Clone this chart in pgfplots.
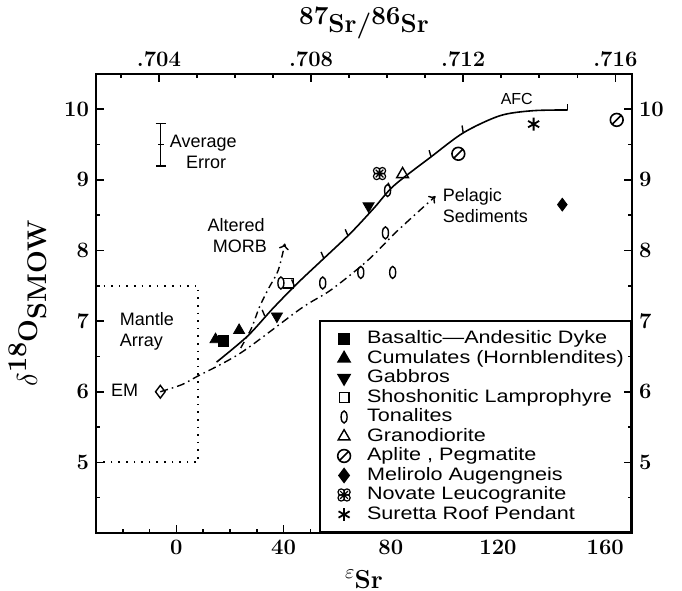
\documentclass[border=0pt]{standalone}
\usepackage{fontspec}
\newfontfamily\lsans{Liberation Sans}
\newfontfamily\lsansw[FakeStretch=1.2]{Liberation Sans}
\usepackage{pgfplots}
\pgfplotsset{compat=1.18}
\usetikzlibrary{calc,arrows.meta}

% circle with slash (aplite)
\pgfdeclareplotmark{oslash}{%
  \pgfpathcircle{\pgfpointorigin}{\pgfplotmarksize}%
  \pgfpathmoveto{\pgfpoint{-0.72\pgfplotmarksize}{-0.72\pgfplotmarksize}}%
  \pgfpathlineto{\pgfpoint{0.72\pgfplotmarksize}{0.72\pgfplotmarksize}}%
  \pgfusepathqstroke}
% clover with cross (leucogranite)
\pgfdeclareplotmark{clover}{%
  \pgfpathcircle{\pgfpoint{0.45\pgfplotmarksize}{0.45\pgfplotmarksize}}{0.5\pgfplotmarksize}%
  \pgfpathcircle{\pgfpoint{-0.45\pgfplotmarksize}{0.45\pgfplotmarksize}}{0.5\pgfplotmarksize}%
  \pgfpathcircle{\pgfpoint{0.45\pgfplotmarksize}{-0.45\pgfplotmarksize}}{0.5\pgfplotmarksize}%
  \pgfpathcircle{\pgfpoint{-0.45\pgfplotmarksize}{-0.45\pgfplotmarksize}}{0.5\pgfplotmarksize}%
  \pgfpathmoveto{\pgfpoint{-0.6\pgfplotmarksize}{-0.6\pgfplotmarksize}}%
  \pgfpathlineto{\pgfpoint{0.6\pgfplotmarksize}{0.6\pgfplotmarksize}}%
  \pgfpathmoveto{\pgfpoint{-0.6\pgfplotmarksize}{0.6\pgfplotmarksize}}%
  \pgfpathlineto{\pgfpoint{0.6\pgfplotmarksize}{-0.6\pgfplotmarksize}}%
  \pgfusepathqstroke}

\tikzset{lbl/.style={font=\lsans\fontsize{9}{10.5}\selectfont,inner sep=0pt}}

\begin{document}
\begin{tikzpicture}
\pgfplotsset{
  frame/.style={scale only axis,width=268pt,height=229.5pt,
    xmin=-30,xmax=170,ymin=4,ymax=10.5,
    axis line style={line width=1.1pt},
    tick style={line width=0.8pt,black},
    major tick length=4pt,minor tick length=2.2pt,
    /pgf/number format/assume math mode=true,
    tick label style={font=\fontsize{11}{13}\selectfont\bfseries},
    ytick={5,6,7,8,9,10},minor ytick={4.5,5.5,6.5,7.5,8.5,9.5}}}
\begin{axis}[frame,name=ax,clip=false,
  xtick={0,40,80,120,160},
  minor xtick={-20,-10,10,20,30,50,60,70,90,100,110,130,140,150},
  xtick pos=bottom,ytick pos=left,
  xlabel={\raisebox{5pt}{\fontsize{10}{11}\selectfont$\varepsilon$}\fontsize{13}{15}\selectfont\bfseries Sr},
  every axis x label/.style={at={(axis description cs:0.5,-0.1)},anchor=center},
  ylabel={\fontsize{13.5}{15}\selectfont$\delta$\raisebox{5.5pt}{\bfseries 18}\bfseries O\raisebox{-4.5pt}{\bfseries SMOW}},
  every axis y label/.style={at={(axis description cs:-0.128,0.5)},rotate=90,anchor=center},
  legend cell align=left,
  legend image code/.code={\draw[#1,mark repeat=1] plot coordinates {(0pt,0pt)};\path (-8pt,0pt) (11pt,0pt);},
  legend style={at={(1,0)},anchor=south east,draw=black,line width=1pt,
    font=\lsansw\fontsize{9}{9.75}\selectfont,
    inner xsep=3.5pt,inner ysep=4.5pt,row sep=1.25pt,
    nodes={inner sep=0pt,text height=6.6pt,text depth=1.9pt}},
]
% legend series
\addplot[only marks,mark=square*,mark size=2.6pt,fill=black] coordinates {(17.5,6.72)};
\addlegendentry{Basaltic—Andesitic Dyke}
\addplot[only marks,mark=triangle*,mark size=3.2pt,fill=black] coordinates {(23.4,6.87) (14.6,6.74)};
\addlegendentry{Cumulates (Hornblendites)}
\addplot[only marks,mark=triangle*,mark size=3.2pt,fill=black,mark options={rotate=180}] coordinates {(37.5,7.07) (71.7,8.63)};
\addlegendentry{Gabbros}
\addplot[only marks,mark=square,mark size=2.4pt,line width=0.7pt] coordinates {(41.8,7.54)};
\addlegendentry{Shoshonitic Lamprophyre}
\addplot[only marks,mark=o,mark size=3pt,line width=0.7pt,mark options={xscale=0.5}] coordinates {(39,7.54) (54.6,7.54) (68.8,7.69) (80.7,7.69) (78,8.25) (78.8,8.85)};
\addlegendentry{Tonalites}
\addplot[only marks,mark=triangle,mark size=3.4pt,line width=0.7pt] coordinates {(84.4,9.08)};
\addlegendentry{Granodiorite}
\addplot[only marks,mark=oslash,mark size=3.2pt,line width=0.8pt] coordinates {(105.2,9.37) (164.3,9.85)};
\addlegendentry{Aplite , Pegmatite}
\addplot[only marks,mark=diamond*,mark size=3.2pt,fill=black] coordinates {(144,8.65)};
\addlegendentry{Melirolo Augengneis}
\addplot[only marks,mark=clover,mark size=3.2pt,line width=0.6pt] coordinates {(75.8,9.09)};
\addlegendentry{Novate Leucogranite}
\addplot[only marks,mark=asterisk,mark size=3.2pt,line width=0.9pt] coordinates {(133.3,9.79)};
\addlegendentry{Suretta Roof Pendant}

% mantle array box
\addplot[forget plot,line width=0.9pt,dash pattern=on 0.8pt off 3pt] coordinates {(-30,7.5) (8.2,7.5) (8.2,5) (-30,5)};
% AFC curve
\addplot[forget plot,line width=0.8pt,smooth] coordinates {(15,6.42) (26.6,6.79) (36,7.18) (45,7.53) (54.5,7.87) (65.1,8.25) (73.7,8.6) (81.2,8.92) (94.8,9.32) (107.2,9.67) (120.8,9.91) (133,9.98) (146,9.99)};
\addplot[forget plot,line width=0.8pt] coordinates {(146,9.99) (146,10.08)};
\addplot[forget plot,line width=0.7pt,unbounded coords=jump] coordinates {
 (33,7.07) (32,7.16) (33,nan)
 (44,7.5) (43,7.59) (44,nan)
 (55,7.89) (54,7.98) (55,nan)
 (64,8.21) (63,8.3) (64,nan)
 (80,8.87) (79,8.96) (80,nan)
 (95,9.33) (94.3,9.42) (95,nan)
 (107,9.67) (106.6,9.77)};
% pelagic sediments
\addplot[forget plot,line width=0.7pt,smooth,dash pattern=on 4pt off 2pt on 0.8pt off 2pt,-{To[length=3pt,width=5pt]}] coordinates {(-6,6.0) (2,6.1) (7.4,6.21) (24,6.55) (46.5,7.18) (57.6,7.44) (71.4,7.86) (82.5,8.28) (96.7,8.77)};
% altered MORB
\addplot[forget plot,line width=0.7pt,smooth,dash pattern=on 3.5pt off 2pt on 0.8pt off 2pt,-{To[length=3pt,width=5pt]}] coordinates {(24,6.62) (28,6.9) (31,7.2) (34.5,7.47) (38,7.72) (40.5,8.1)};
% EM
\addplot[forget plot,only marks,mark=diamond,mark size=3.2pt,line width=0.7pt] coordinates {(-6,6.0)};
% average error
\addplot[forget plot,mark=-,mark size=1.5pt,line width=0.8pt,error bars/.cd,y dir=both,y explicit,error bar style={line width=0.8pt},error mark options={rotate=90,mark size=2.5pt,line width=0.8pt}] coordinates {(-5.9,9.5) +- (0,0.3)};

\node[lbl,align=left,anchor=west] at (axis cs:-2.6,9.4) {Average\\\hspace*{0.9em}Error};
\node[lbl,align=left,anchor=west] at (axis cs:-21.2,6.86) {Mantle\\Array};
\node[lbl] at (axis cs:-19.3,6.02) {EM};
\node[lbl,align=center] at (axis cs:22.3,8.21) {Altered\\\hspace*{0.4em}MORB};
\node[lbl,align=left,anchor=west] at (axis cs:99.3,8.64) {Pelagic\\Sediments};
\node[lbl,font=\lsans\fontsize{8}{9}\selectfont] at (axis cs:127,10.15) {AFC};
\coordinate (bl) at (rel axis cs:0,0);
\coordinate (tr) at (rel axis cs:1,1);
\end{axis}
\begin{axis}[frame,
  xtick={-6.53,50.25,107.03,163.8},xticklabels={.704,.708,.712,.716},
  minor xtick={-20.7,7.67,21.86,36.06,64.45,78.65,92.84,121.2,135.4,149.6},
  xtick pos=top,xticklabel pos=top,ytick pos=right,yticklabel pos=right,
  xlabel={\fontsize{13}{15}\selectfont\bfseries\raisebox{4pt}{87}Sr/\raisebox{4pt}{86}Sr},
  every axis x label/.style={at={(axis description cs:0.5,1.112)},anchor=center},
]
\addplot[draw=none,forget plot] coordinates {(0,5)};
\end{axis}
\pgfresetboundingbox
\path ($(bl)+(-48pt,-29pt)$) rectangle ($(tr)+(25pt,37pt)$);
\end{tikzpicture}
\end{document}
